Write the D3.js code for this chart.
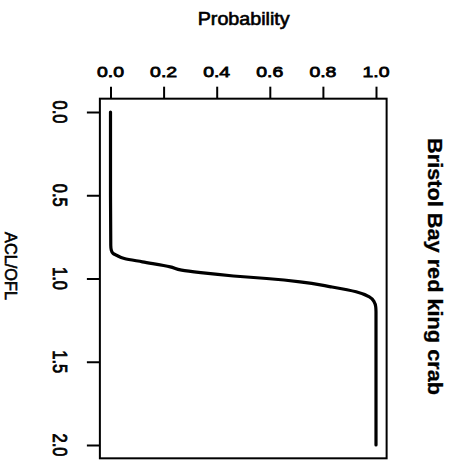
<!DOCTYPE html>
<html>
<head>
<meta charset="utf-8">
<script src="https://cdn.jsdelivr.net/npm/d3@7/dist/d3.min.js"></script>
<style>
  html, body { margin: 0; padding: 0; background: #fff; }
  svg text { font-family: "Liberation Sans", Arial, Helvetica, sans-serif; fill: #000; }
</style>
</head>
<body>
<svg id="chart" width="454" height="460"></svg>
<script>
// Probability that the catch limit exceeds the limit, by ACL/OFL ratio
const aclOfl = [0.00, 0.50, 0.80, 0.83, 0.85, 0.86, 0.88, 0.90, 0.93, 0.95, 0.965,
                0.985, 1.00, 1.02, 1.05, 1.08, 1.11, 1.14, 1.17, 1.20, 1.50, 2.00];
const probability = [0.000, 0.000, 0.001, 0.003, 0.010, 0.022, 0.052, 0.120, 0.225, 0.268, 0.340,
                     0.463, 0.588, 0.714, 0.830, 0.925, 0.975, 0.993, 0.999, 1.000, 1.000, 1.000];
const probTicks = [0.0, 0.2, 0.4, 0.6, 0.8, 1.0];
const ratioTicks = [0.0, 0.5, 1.0, 1.5, 2.0];
const title = "Bristol Bay red king crab";
const xLabel = "Probability";
const yLabel = "ACL/OFL";

const svg = d3.select("#chart");
const fmt = d3.format(".1f");

// Probability runs left→right along the top; ACL/OFL runs top→bottom on the left
const x = d3.scaleLinear().domain([0, 1]).range([110.5, 376]);
const y = d3.scaleLinear().domain([0, 2]).range([112, 445]);

// Plot frame with the usual 4% padding around the data range
const x0 = x(-0.04), x1 = x(1.04), y0 = y(-0.08), y1 = y(2.08);
svg.append("rect")
  .attr("x", x0).attr("y", y0)
  .attr("width", x1 - x0).attr("height", y1 - y0)
  .attr("fill", "none").attr("stroke", "#000").attr("stroke-width", 2);

// Top axis: probability
const topAxis = svg.append("g")
  .attr("transform", `translate(0,${y0})`)
  .call(d3.axisTop(x).tickValues(probTicks).tickSize(12).tickFormat(""));
topAxis.select(".domain").remove();
topAxis.selectAll(".tick line").attr("stroke", "#000").attr("stroke-width", 2);

svg.append("g").selectAll("text")
  .data(probTicks)
  .join("text")
  .attr("x", d => x(d))
  .attr("y", 77)
  .attr("text-anchor", "middle")
  .attr("font-size", 15.5)
  .attr("textLength", 27)
  .attr("lengthAdjust", "spacingAndGlyphs")
  .attr("stroke", "#000").attr("stroke-width", 0.8)
  .text(d => fmt(d));

// Left axis: ACL/OFL
const leftAxis = svg.append("g")
  .attr("transform", `translate(${x0},0)`)
  .call(d3.axisLeft(y).tickValues(ratioTicks).tickSize(13).tickFormat(""));
leftAxis.select(".domain").remove();
leftAxis.selectAll(".tick line").attr("stroke", "#000").attr("stroke-width", 2);

svg.append("g").selectAll("text")
  .data(ratioTicks)
  .join("text")
  .attr("transform", d => `translate(53.3,${y(d)}) rotate(90)`)
  .attr("text-anchor", "middle")
  .attr("font-size", 20.5)
  .attr("textLength", 23)
  .attr("lengthAdjust", "spacingAndGlyphs")
  .attr("stroke", "#000").attr("stroke-width", 0.8)
  .text(d => fmt(d));

// Axis titles
svg.append("text")
  .attr("x", 243.7).attr("y", 25)
  .attr("text-anchor", "middle")
  .attr("font-size", 17.5)
  .attr("textLength", 92)
  .attr("lengthAdjust", "spacingAndGlyphs")
  .attr("stroke", "#000").attr("stroke-width", 0.6)
  .text(xLabel);

svg.append("text")
  .attr("transform", "translate(4.5,266) rotate(90)")
  .attr("text-anchor", "middle")
  .attr("font-size", 16.5)
  .attr("textLength", 68)
  .attr("lengthAdjust", "spacingAndGlyphs")
  .attr("stroke", "#000").attr("stroke-width", 0.6)
  .text(yLabel);

// Main title on the right side
svg.append("text")
  .attr("transform", "translate(428,266.5) rotate(90)")
  .attr("text-anchor", "middle")
  .attr("font-size", 20.5)
  .attr("font-weight", "bold")
  .attr("textLength", 257)
  .attr("lengthAdjust", "spacingAndGlyphs")
  .attr("stroke", "#000").attr("stroke-width", 0.3)
  .text(title);

// Probability curve
const pts = aclOfl.map((a, i) => [a, probability[i]]);
const line = d3.line()
  .x(d => x(d[1]))
  .y(d => y(d[0]))
  .curve(d3.curveMonotoneY);

svg.append("path")
  .datum(pts)
  .attr("d", line)
  .attr("fill", "none")
  .attr("stroke", "#000")
  .attr("stroke-width", 3.2)
  .attr("stroke-linejoin", "round")
  .attr("stroke-linecap", "round");
</script>
</body>
</html>
